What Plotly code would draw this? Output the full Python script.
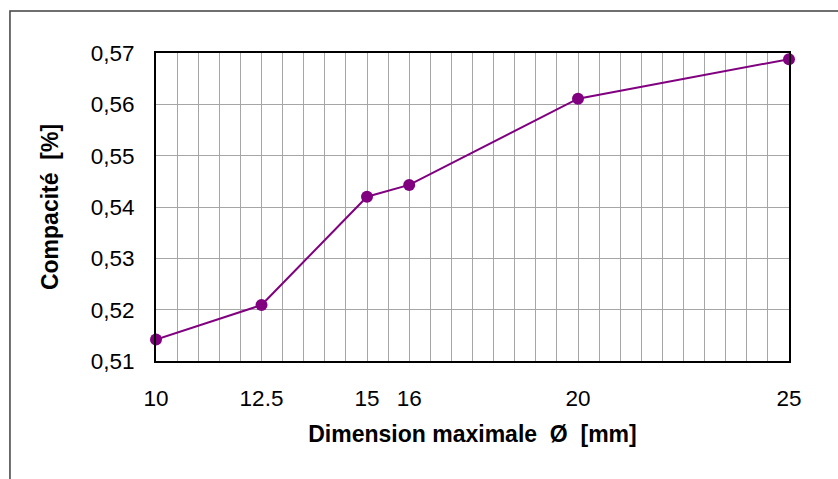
import plotly.graph_objects as go

x_vals = [10, 12.5, 15, 16, 20, 25]
y_vals = [0.5142, 0.5209, 0.5420, 0.5443, 0.5611, 0.5688]
x_ticks = [10, 12.5, 15, 16, 20, 25]
x_tick_text = ["10", "12.5", "15", "16", "20", "25"]
y_ticks = [0.51, 0.52, 0.53, 0.54, 0.55, 0.56, 0.57]
y_tick_text = ["0,51", "0,52", "0,53", "0,54", "0,55", "0,56", "0,57"]

fig = go.Figure()
fig.add_trace(go.Scatter(
    x=x_vals, y=y_vals, mode="lines+markers",
    line=dict(color="#800080", width=2),
    marker=dict(color="#800080", size=12),
    cliponaxis=False,
))

font = "Liberation Sans, Arial, sans-serif"
grid = "#a6a6a6"
fig.update_xaxes(
    range=[10, 25], tickvals=x_ticks, ticktext=x_tick_text,
    showgrid=True, gridcolor=grid, gridwidth=1,
    minor=dict(dtick=0.5, tick0=10, showgrid=True, gridcolor=grid, gridwidth=1),
    showline=True, linecolor="black", linewidth=2, mirror=True,
    ticks="", zeroline=False, ticklabelstandoff=16,
    tickfont=dict(family=font, size=22.5, color="black"),
    title=dict(text="<b>Dimension maximale\u00a0\u00a0Ø\u00a0\u00a0[mm]</b>", font=dict(family=font, size=23, color="black"), standoff=16),
)
fig.update_yaxes(
    range=[0.51, 0.57], tickvals=y_ticks, ticktext=y_tick_text,
    showgrid=True, gridcolor=grid, gridwidth=1,
    showline=True, linecolor="black", linewidth=2, mirror=True,
    ticks="", zeroline=False, ticklabelstandoff=15,
    tickfont=dict(family=font, size=22.5, color="black"),
    title=dict(text="<b>Compacité\u00a0\u00a0[%]</b>", font=dict(family=font, size=23, color="black"), standoff=26),
)
fig.add_shape(type="rect", xref="paper", yref="paper",
              x0=-0.2307, x1=1.2, y0=-0.6, y1=1.1364,
              line=dict(color="#404040", width=1.5), layer="below")
fig.update_layout(
    width=838, height=479,
    margin=dict(l=156, r=49, t=53, b=118),
    plot_bgcolor="white", paper_bgcolor="white",
    showlegend=False,
)
fig.write_html("out.html")
